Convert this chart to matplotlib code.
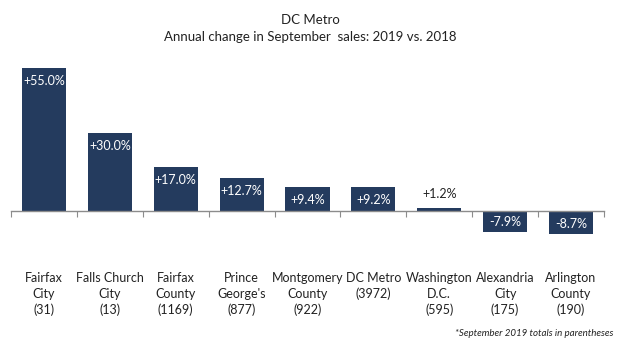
"""Annual change in September sales by jurisdiction, DC Metro area."""

import matplotlib

matplotlib.use("Agg")
import matplotlib.pyplot as plt  # noqa: E402
from matplotlib.transforms import blended_transform_factory  # noqa: E402

AREAS = [
    "Fairfax\nCity",
    "Falls Church\nCity",
    "Fairfax\nCounty",
    "Prince\nGeorge's",
    "Montgomery\nCounty",
    "DC Metro",
    "Washington\nD.C.",
    "Alexandria\nCity",
    "Arlington\nCounty",
]
TOTALS = [31, 13, 1169, 877, 922, 3972, 595, 175, 190]
CHANGE = [55.0, 30.0, 17.0, 12.7, 9.4, 9.2, 1.2, -7.9, -8.7]

BAR_COLOR = "#243b5e"
AXIS_COLOR = "#8c8c8c"

plt.rcParams["font.family"] = ["Lato", "DejaVu Sans"]

fig = plt.figure(figsize=(6.2, 3.46), dpi=100)
ax = fig.add_axes([11 / 620, 1 - 240 / 346, 593 / 620, 180 / 346])

x = list(range(len(CHANGE)))
bars = ax.bar(x, CHANGE, width=0.67, color=BAR_COLOR, zorder=2)

ax.set_xlim(-0.5, len(CHANGE) - 0.5)
ax.set_ylim(-11.15, 58.08)

for side in ("top", "right", "left"):
    ax.spines[side].set_visible(False)
ax.spines["bottom"].set_position(("data", 0))
ax.spines["bottom"].set_color(AXIS_COLOR)
ax.spines["bottom"].set_linewidth(1.0)
ax.set_yticks([])
ax.set_xticks([i - 0.5 for i in range(len(CHANGE) + 1)])
ax.set_xticklabels([])
ax.tick_params(axis="x", length=4, color=AXIS_COLOR, direction="out")

# value labels: inside the bar end, or above when the bar is too short
for bar, value in zip(bars, CHANGE):
    cx = bar.get_x() + bar.get_width() / 2
    text = f"{value:+.1f}%"
    if abs(value) < 5:
        ax.annotate(text, (cx, value), xytext=(0, 6), textcoords="offset points",
                    ha="center", va="bottom", fontsize=9, color="#222222")
    elif value > 0:
        ax.annotate(text, (cx, value), xytext=(0, -9.5), textcoords="offset points",
                    ha="center", va="center", fontsize=9, color="white")
    else:
        ax.annotate(text, (cx, value), xytext=(0, 7), textcoords="offset points",
                    ha="center", va="center", fontsize=9, color="white")

# category names with totals, below the plot
trans = blended_transform_factory(ax.transData, fig.transFigure)
for i, (area, total) in enumerate(zip(AREAS, TOTALS)):
    ax.text(i, 1 - 272 / 346, f"{area}\n({total})", transform=trans,
            ha="center", va="top", fontsize=9, color="#222222",
            linespacing=1.35, clip_on=False)

fig.text(0.5, 1 - 20 / 346, "DC Metro", ha="center", va="center",
         fontsize=9.5, color="#222222")
fig.text(0.5, 1 - 37 / 346, "Annual change in September  sales: 2019 vs. 2018",
         ha="center", va="center", fontsize=9.5, color="#222222")
fig.text(613 / 620, 1 - 334 / 346, "*September 2019 totals in parentheses",
         ha="right", va="center", fontsize=7, style="italic", color="#222222")

fig.savefig("out.png", dpi=100)
